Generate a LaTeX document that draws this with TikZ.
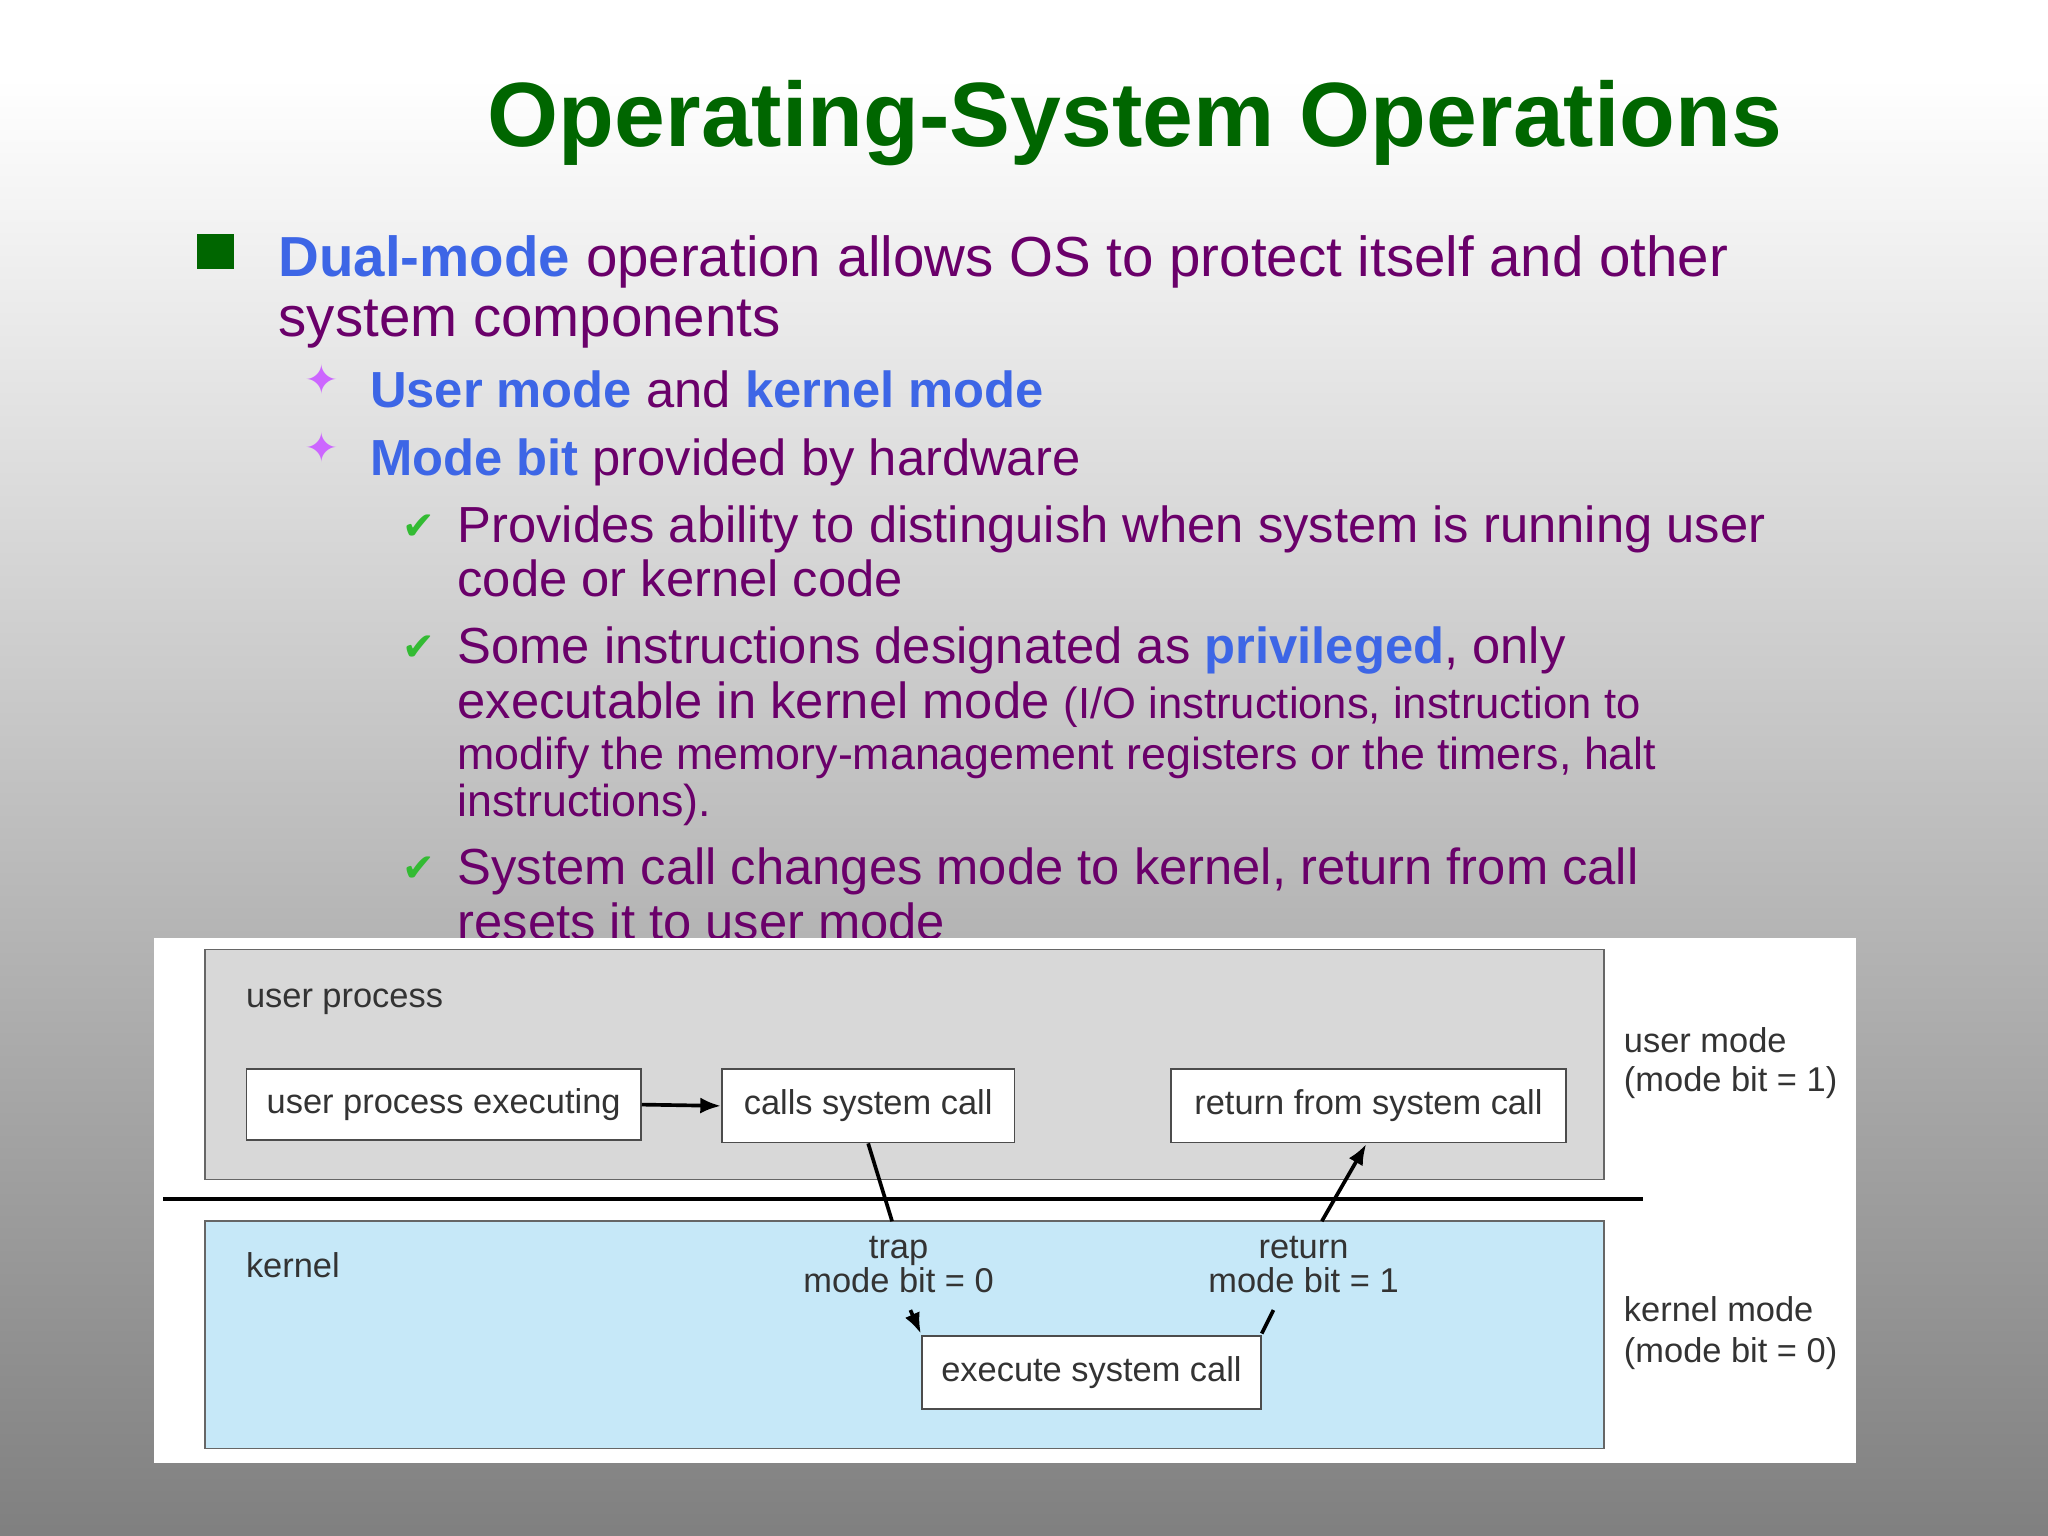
\documentclass[tikz,border=0pt]{standalone}
\usepackage{fontspec}
\usetikzlibrary{arrows.meta}
\setmainfont{Liberation Sans}
\newfontfamily\symf{DejaVu Sans}
\definecolor{tgreen}{HTML}{006600}
\definecolor{tblue}{HTML}{3D66E6}
\definecolor{tpurp}{HTML}{6A006A}
\definecolor{tmag}{HTML}{CC66FF}
\definecolor{cgreen}{HTML}{33BB33}
\definecolor{ugray}{HTML}{D8D8D8}
\definecolor{kblue}{HTML}{C6E8F8}
\definecolor{dtext}{HTML}{333333}
\begin{document}
\begin{tikzpicture}[x=0.02cm,y=-0.02cm,
  txt/.style={anchor=base west,inner sep=0pt,text=tpurp},
  big/.style={font=\fontsize{24.6}{28}\selectfont},
  mid/.style={font=\fontsize{22.1}{25}\selectfont},
  sml/.style={font=\fontsize{19.5}{22}\selectfont},
  dg/.style={font=\fontsize{15}{18}\selectfont,text=dtext},
  box/.style={draw=black!70,fill=white,line width=0.8pt,inner sep=0pt},
  arr/.style={-{Latex[length=9pt,width=7pt]},line width=1.6pt}]
\useasboundingbox (0,0) rectangle (1568,1176);
\shade[top color=white,bottom color=white] (0,0) rectangle (1568,60);
\shade[top color=white,bottom color=black!50] (0,60) rectangle (1568,1176);
% title
\node[anchor=base,inner sep=0pt,text=tgreen,font=\fontsize{39.8}{44}\selectfont\bfseries] (title) at (869,112) {Operating-System Operations};
% bullets
\fill[tgreen] (151,179) rectangle (179,206);
\node[txt,big] (l1) at (213,212) {\textcolor{tblue}{\bfseries Dual-mode} operation allows OS to protect itself and other};
\node[txt,big] (l2) at (213,258) {system components};
\node[txt,text=tmag,font=\symf\fontsize{18}{20}\selectfont] (s1) at (233,302) {✦};
\node[txt,text=tmag,font=\symf\fontsize{18}{20}\selectfont] (s2) at (233,354) {✦};
\node[txt,mid] (l3) at (283,312) {\textcolor{tblue}{\bfseries User mode} and \textcolor{tblue}{\bfseries kernel mode}};
\node[txt,mid] (l4) at (283,364) {\textcolor{tblue}{\bfseries Mode bit} provided by hardware};
\foreach \yy/\nm in {413/c1,506/c2,675/c3}
  \node[txt,text=cgreen,font=\symf\fontsize{17}{20}\selectfont] (\nm) at (308,\yy) {✔};
\node[txt,mid] (l5) at (350,415) {Provides ability to distinguish when system is running user};
\node[txt,mid] (l6) at (350,457) {code or kernel code};
\node[txt,mid] (l7) at (350,508) {Some instructions designated as \textcolor{tblue}{\bfseries privileged}, only};
\node[txt,mid] (l8) at (350,550) {executable in kernel mode {\fontsize{19}{22}\selectfont(I/O instructions, instruction to}};
\node[txt,sml] (l9) at (350,589) {modify the memory-management registers or the timers, halt};
\node[txt,sml] (l10) at (350,625) {instructions).};
\node[txt,mid] (l11) at (350,677) {System call changes mode to kernel, return from call};
\node[txt,mid] (l12) at (350,719) {resets it to user mode};
% diagram
\fill[white] (118,718) rectangle (1421,1120);
\draw[black!60,fill=ugray,line width=0.8pt] (157,727) rectangle (1228,903);
\draw[black!60,fill=kblue,line width=0.8pt] (157,935) rectangle (1228,1109);
\draw[line width=2pt] (125,918) -- (1258,918);
\node[txt,dg] (up) at (188,771) {user process};
\node[txt,dg] (kn) at (188,978) {kernel};
\node[box,dg,anchor=north west,minimum width=6.04cm,minimum height=1.08cm] (upe) at (188,818) {user process executing};
\node[box,dg,anchor=north west,minimum width=4.48cm,minimum height=1.12cm] (csc) at (552,818) {calls system call};
\node[box,dg,anchor=north west,minimum width=6.04cm,minimum height=1.12cm] (rsc) at (896,818) {return from system call};
\node[box,dg,anchor=north west,minimum width=5.2cm,minimum height=1.12cm] (esc) at (705,1022) {execute system call};
\draw[arr] (upe.east) -- (csc.west);
\node[dg,align=center,inner sep=0pt,font=\fontsize{15}{15}\selectfont] (trap) at (688,968) {trap\\mode bit = 0};
\node[dg,align=center,inner sep=0pt,font=\fontsize{15}{15}\selectfont] (ret) at (998,968) {return\\mode bit = 1};
\coordinate (t1) at (683,935);
\coordinate (t2) at (697,1003);
\coordinate (r1) at (975,1003);
\coordinate (r2) at (1012,935);
\draw[line width=1.6pt] (csc.south) -- (t1);
\draw[arr] (t2) -- (705,1021);
\draw[line width=1.6pt] (r1) -- (966,1021);
\draw[arr] (r2) -- (1046,876);
\node[txt,dg] (um1) at (1243,806) {user mode};
\node[txt,dg] (um2) at (1243,836) {(mode bit = 1)};
\node[txt,dg] (km1) at (1243,1012) {kernel mode};
\node[txt,dg] (km2) at (1243,1043) {(mode bit = 0)};
\end{tikzpicture}
\end{document}
